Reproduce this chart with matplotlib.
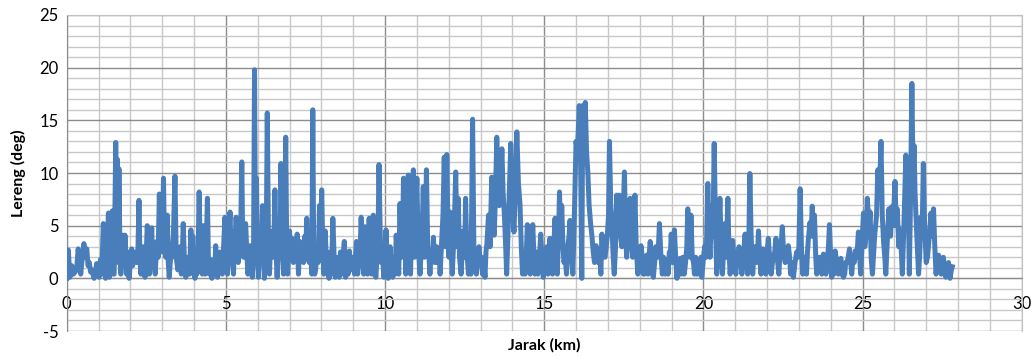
import numpy as np
import matplotlib
matplotlib.use("Agg")
import matplotlib.pyplot as plt
from matplotlib.ticker import MultipleLocator

plt.rcParams['font.family'] = ['Lato', 'DejaVu Sans']
plt.rcParams['axes.unicode_minus'] = False

# Profil kemiringan lereng sepanjang jalur: (jarak km, lereng deg)
seg_00_05 = [
    (0.00, 0.0), (0.05, 2.7), (0.10, 0.1), (0.16, 1.2), (0.21, 0.4), (0.26, 0.6), (0.31, 0.8),
    (0.36, 2.8), (0.40, 1.5), (0.44, 0.4), (0.49, 2.0), (0.54, 3.3), (0.58, 2.0), (0.63, 2.8),
    (0.67, 1.2), (0.71, 1.5), (0.75, 0.6), (0.79, 0.8), (0.86, 0.0), (0.90, 0.6), (0.94, 1.4),
    (0.98, 0.4), (1.02, 0.1), (1.06, 1.8), (1.10, 0.4), (1.15, 5.2), (1.19, 0.8), (1.22, 0.0),
    (1.27, 2.5), (1.31, 6.2), (1.34, 0.1), (1.36, 1.5), (1.40, 3.0), (1.43, 6.4), (1.46, 0.4),
    (1.49, 0.4), (1.54, 12.9), (1.57, 2.0), (1.59, 11.3), (1.62, 1.5), (1.64, 10.4), (1.67, 3.0),
    (1.70, 0.4), (1.73, 2.5), (1.76, 4.1), (1.80, 1.2), (1.83, 4.1), (1.86, 2.0), (1.88, 0.4),
    (1.92, 2.5), (1.96, 0.0), (2.00, 1.5), (2.04, 2.8), (2.07, 1.2), (2.11, 2.5), (2.15, 2.0),
    (2.20, 1.5), (2.24, 3.0), (2.27, 7.4), (2.30, 2.0), (2.33, 0.4), (2.37, 2.2), (2.41, 3.0),
    (2.44, 1.5), (2.46, 0.1), (2.50, 2.5), (2.53, 5.0), (2.57, 2.0), (2.60, 0.4), (2.64, 2.5),
    (2.67, 4.8), (2.70, 1.5), (2.74, 2.0), (2.78, 0.4), (2.83, 3.5), (2.87, 2.0), (2.91, 8.0),
    (2.94, 3.0), (2.96, 6.8), (3.00, 2.5), (3.04, 9.5), (3.07, 3.5), (3.11, 2.0), (3.16, 6.0),
    (3.19, 1.5), (3.22, 0.1), (3.26, 1.8), (3.30, 2.0), (3.35, 4.0), (3.40, 9.7), (3.44, 2.0),
    (3.49, 0.8), (3.52, 1.5), (3.56, 3.0), (3.60, 0.4), (3.63, 2.0), (3.66, 5.2), (3.70, 1.5),
    (3.74, 0.1), (3.78, 1.8), (3.82, 2.0), (3.86, 0.4), (3.90, 4.6), (3.93, 1.5), (3.96, 4.0),
    (4.00, 0.4), (4.03, 0.0), (4.06, 1.5), (4.09, 0.4), (4.13, 3.0), (4.16, 8.2), (4.19, 3.0),
    (4.22, 2.0), (4.26, 0.4), (4.29, 5.0), (4.32, 2.5), (4.35, 0.4), (4.38, 2.5), (4.42, 7.6),
    (4.45, 2.0), (4.48, 0.4), (4.52, 1.8), (4.56, 0.0), (4.59, 1.2), (4.62, 1.5), (4.65, 0.8),
    (4.68, 3.1), (4.71, 0.4), (4.74, 0.1), (4.78, 1.5), (4.82, 2.5), (4.85, 0.8), (4.89, 0.4),
    (4.93, 3.0), (4.97, 5.8),
]
seg_05_10 = [
    (5.01, 2.0), (5.05, 0.4), (5.09, 3.5), (5.13, 6.3), (5.17, 1.5), (5.20, 2.0), (5.24, 0.4),
    (5.27, 4.5), (5.30, 2.5), (5.32, 5.8), (5.36, 2.0), (5.39, 1.5), (5.44, 3.0), (5.47, 5.5),
    (5.50, 11.05), (5.53, 3.0), (5.56, 2.0), (5.59, 4.0), (5.62, 5.2), (5.66, 2.5), (5.69, 0.4),
    (5.72, 2.0), (5.76, 3.1), (5.80, 1.5), (5.83, 0.1), (5.87, 3.0), (5.90, 19.8), (5.93, 3.0),
    (5.96, 9.5), (5.99, 2.0), (6.02, 0.1), (6.05, 2.5), (6.08, 3.0), (6.11, 1.5), (6.15, 6.9),
    (6.18, 2.0), (6.21, 0.0), (6.25, 2.0), (6.27, 4.0), (6.30, 15.7), (6.34, 3.0), (6.37, 0.4),
    (6.40, 3.0), (6.44, 2.5), (6.47, 4.5), (6.50, 2.0), (6.54, 8.4), (6.57, 3.0), (6.61, 0.1),
    (6.64, 2.5), (6.67, 4.0), (6.70, 2.0), (6.73, 10.9), (6.77, 3.0), (6.81, 0.4), (6.84, 4.0),
    (6.88, 13.4), (6.91, 3.0), (6.94, 0.4), (6.97, 2.5), (7.00, 4.5), (7.04, 2.0), (7.08, 3.8),
    (7.12, 1.5), (7.16, 3.5), (7.20, 2.0), (7.24, 4.2), (7.28, 0.4), (7.32, 3.5), (7.36, 2.0),
    (7.40, 3.0), (7.44, 1.5), (7.48, 4.0), (7.51, 2.5), (7.54, 5.7), (7.58, 2.0), (7.62, 1.5),
    (7.66, 3.0), (7.70, 0.4), (7.73, 16.0), (7.76, 1.5), (7.79, 0.4), (7.82, 0.8), (7.86, 3.0),
    (7.90, 1.5), (7.94, 6.9), (7.97, 3.0), (8.01, 8.4), (8.04, 3.5), (8.08, 0.4), (8.12, 4.5),
    (8.16, 1.5), (8.20, 2.0), (8.24, 0.0), (8.28, 2.5), (8.32, 0.4), (8.36, 5.7), (8.40, 2.0),
    (8.44, 0.1), (8.48, 1.5), (8.52, 2.0), (8.56, 0.1), (8.60, 2.5), (8.64, 0.4), (8.68, 2.0),
    (8.72, 3.5), (8.76, 0.1), (8.80, 1.5), (8.84, 0.4), (8.88, 2.6), (8.92, 0.8), (8.96, 1.5),
    (9.00, 2.0), (9.04, 0.4), (9.08, 2.5), (9.10, 3.5), (9.14, 0.4), (9.18, 2.0), (9.22, 3.0),
    (9.25, 5.8), (9.29, 2.0), (9.33, 0.4), (9.37, 4.9), (9.41, 2.0), (9.45, 0.4), (9.50, 5.7),
    (9.54, 2.5), (9.58, 0.4), (9.63, 6.0), (9.67, 2.0), (9.71, 0.1), (9.75, 2.0), (9.78, 4.0),
    (9.81, 10.8), (9.85, 4.0), (9.88, 1.5), (9.92, 2.5), (9.96, 0.1),
]
seg_10_15 = [
    (10.00, 1.5), (10.03, 4.6), (10.07, 0.4), (10.10, 0.0), (10.13, 2.0), (10.16, 3.0),
    (10.20, 0.4), (10.24, 0.1), (10.28, 2.0), (10.32, 0.4), (10.35, 4.1), (10.39, 2.0),
    (10.43, 0.4), (10.47, 7.1), (10.51, 2.0), (10.55, 3.5), (10.58, 9.5), (10.62, 4.0),
    (10.65, 0.4), (10.69, 5.0), (10.73, 9.8), (10.77, 3.0), (10.80, 0.4), (10.84, 6.0),
    (10.89, 10.3), (10.92, 2.0), (10.95, 5.0), (11.00, 9.5), (11.04, 3.0), (11.10, 0.4),
    (11.14, 3.0), (11.17, 5.0), (11.20, 8.7), (11.24, 2.0), (11.27, 5.0), (11.30, 10.3),
    (11.34, 3.0), (11.38, 2.0), (11.41, 0.4), (11.45, 2.5), (11.48, 1.5), (11.52, 3.9),
    (11.55, 2.0), (11.58, 1.5), (11.62, 3.0), (11.66, 1.5), (11.70, 2.5), (11.73, 0.4),
    (11.77, 3.0), (11.82, 6.0), (11.86, 11.5), (11.90, 3.0), (11.94, 11.75), (11.98, 4.0),
    (12.01, 2.0), (12.04, 6.3), (12.08, 2.5), (12.11, 0.4), (12.15, 3.0), (12.18, 5.5),
    (12.22, 10.1), (12.26, 3.0), (12.30, 7.6), (12.34, 2.0), (12.39, 0.4), (12.43, 3.0),
    (12.46, 4.5), (12.50, 2.0), (12.53, 7.6), (12.57, 2.5), (12.62, 0.4), (12.66, 2.0),
    (12.70, 0.4), (12.75, 15.1), (12.79, 3.0), (12.83, 2.5), (12.87, 0.4), (12.91, 2.0),
    (12.95, 3.0), (12.99, 1.5), (13.03, 2.0), (13.06, 0.4), (13.10, 1.5), (13.14, 0.1),
    (13.17, 2.5), (13.20, 3.3), (13.25, 6.0), (13.30, 3.0), (13.35, 9.6), (13.39, 5.0),
    (13.43, 4.1), (13.47, 8.0), (13.51, 13.4), (13.55, 8.0), (13.59, 6.9), (13.63, 9.0),
    (13.67, 12.3), (13.71, 8.0), (13.75, 6.0), (13.79, 3.0), (13.82, 0.4), (13.86, 4.0),
    (13.90, 8.0), (13.95, 12.8), (14.00, 7.0), (14.05, 4.4), (14.10, 9.0), (14.14, 13.9),
    (14.19, 9.0), (14.24, 7.0), (14.28, 3.0), (14.32, 0.4), (14.35, 2.0), (14.40, 0.4),
    (14.44, 2.5), (14.47, 5.1), (14.51, 2.0), (14.56, 0.4), (14.60, 2.0), (14.64, 5.1),
    (14.68, 2.0), (14.71, 0.4), (14.75, 2.5), (14.80, 0.4), (14.85, 2.0), (14.89, 4.2),
    (14.93, 2.0), (14.97, 0.1),
]
seg_15_20 = [
    (15.01, 1.5), (15.04, 2.0), (15.08, 3.0), (15.12, 0.4), (15.15, 2.0), (15.18, 3.8),
    (15.22, 1.5), (15.26, 0.4), (15.30, 3.0), (15.34, 5.7), (15.38, 2.0), (15.41, 0.4),
    (15.45, 4.0), (15.48, 8.2), (15.52, 4.0), (15.55, 6.9), (15.59, 3.0), (15.62, 1.5),
    (15.66, 2.0), (15.70, 0.4), (15.74, 3.0), (15.78, 4.0), (15.81, 5.5), (15.86, 2.0),
    (15.90, 0.4), (15.94, 5.0), (15.97, 9.0), (16.00, 13.0), (16.04, 12.0), (16.07, 14.0),
    (16.10, 16.4), (16.14, 12.0), (16.18, 0.0), (16.21, 16.4), (16.25, 14.0), (16.29, 16.7),
    (16.33, 12.0), (16.37, 10.1), (16.41, 7.0), (16.46, 5.1), (16.50, 4.0), (16.54, 2.5),
    (16.58, 1.5), (16.63, 3.1), (16.67, 2.0), (16.70, 1.5), (16.74, 2.5), (16.78, 0.4),
    (16.81, 4.2), (16.86, 2.5), (16.91, 2.0), (16.95, 3.0), (16.98, 4.0), (17.02, 6.0),
    (17.05, 13.0), (17.09, 7.0), (17.12, 5.7), (17.16, 2.5), (17.20, 0.4), (17.24, 3.0),
    (17.28, 7.9), (17.32, 5.0), (17.36, 7.9), (17.40, 4.0), (17.44, 3.0), (17.48, 6.0),
    (17.52, 10.1), (17.56, 4.0), (17.59, 2.0), (17.64, 4.0), (17.70, 7.6), (17.74, 4.0),
    (17.78, 2.0), (17.82, 5.0), (17.85, 7.9), (17.89, 3.0), (17.94, 0.4), (17.99, 1.5),
    (18.04, 3.1), (18.08, 2.0), (18.11, 0.4), (18.15, 0.4), (18.18, 2.0), (18.22, 2.2),
    (18.26, 0.4), (18.29, 2.0), (18.33, 3.5), (18.37, 1.5), (18.40, 0.4), (18.43, 0.1),
    (18.47, 1.5), (18.50, 3.0), (18.55, 2.0), (18.58, 2.5), (18.62, 5.2), (18.66, 2.5),
    (18.71, 0.4), (18.75, 2.0), (18.80, 0.4), (18.85, 1.8), (18.89, 0.4), (18.93, 2.5),
    (18.96, 2.0), (18.99, 4.2), (19.03, 1.5), (19.06, 2.0), (19.09, 4.6), (19.13, 2.0),
    (19.17, 0.0), (19.21, 1.5), (19.24, 0.4), (19.27, 1.9), (19.31, 0.4), (19.35, 2.0),
    (19.40, 0.4), (19.44, 1.5), (19.48, 3.0), (19.51, 6.6), (19.55, 3.0), (19.58, 2.0),
    (19.61, 6.0), (19.65, 2.0), (19.69, 1.5), (19.72, 0.4), (19.76, 2.0), (19.80, 0.4),
    (19.84, 1.5), (19.88, 0.4), (19.92, 2.0), (19.95, 0.1), (19.99, 1.5),
]
seg_20_25 = [
    (20.02, 2.5), (20.05, 3.1), (20.09, 2.0), (20.14, 9.0), (20.17, 4.0), (20.21, 2.0),
    (20.26, 6.9), (20.30, 4.0), (20.34, 12.8), (20.38, 5.0), (20.42, 0.4), (20.46, 3.0),
    (20.52, 7.6), (20.56, 3.0), (20.60, 0.4), (20.64, 3.0), (20.68, 5.2), (20.72, 2.0),
    (20.77, 7.6), (20.80, 3.0), (20.84, 0.4), (20.88, 2.0), (20.92, 3.6), (20.96, 2.0),
    (21.02, 0.4), (21.06, 2.5), (21.09, 1.5), (21.12, 3.0), (21.16, 2.0), (21.21, 0.4),
    (21.25, 2.0), (21.28, 3.0), (21.31, 4.2), (21.35, 2.0), (21.39, 0.4), (21.43, 4.0),
    (21.46, 9.95), (21.50, 4.0), (21.55, 0.4), (21.58, 2.0), (21.62, 3.0), (21.66, 1.5),
    (21.70, 2.0), (21.73, 4.5), (21.77, 2.0), (21.81, 0.4), (21.84, 2.0), (21.87, 2.8),
    (21.91, 1.5), (21.96, 0.4), (22.00, 2.5), (22.04, 3.8), (22.08, 2.0), (22.13, 0.4),
    (22.17, 1.5), (22.20, 2.0), (22.24, 2.5), (22.28, 3.8), (22.32, 2.0), (22.37, 0.4),
    (22.41, 2.5), (22.45, 3.5), (22.48, 4.9), (22.52, 2.5), (22.57, 1.5), (22.61, 2.0),
    (22.64, 2.5), (22.67, 3.1), (22.71, 2.0), (22.74, 0.4), (22.79, 1.5), (22.83, 0.1),
    (22.88, 1.5), (22.93, 2.5), (22.97, 2.0), (23.00, 3.0), (23.04, 8.5), (23.08, 3.0),
    (23.12, 0.4), (23.16, 1.5), (23.20, 2.0), (23.24, 0.4), (23.27, 2.5), (23.30, 3.8),
    (23.35, 5.3), (23.38, 4.0), (23.42, 6.85), (23.46, 4.0), (23.49, 6.0), (23.53, 2.0),
    (23.56, 0.4), (23.60, 2.0), (23.64, 1.5), (23.67, 2.0), (23.72, 0.4), (23.77, 2.3),
    (23.81, 1.5), (23.85, 0.4), (23.90, 2.0), (23.93, 3.0), (23.96, 5.1), (24.00, 2.0),
    (24.03, 0.1), (24.07, 1.5), (24.10, 0.4), (24.14, 2.6), (24.19, 1.5), (24.24, 0.4),
    (24.28, 1.5), (24.32, 1.9), (24.36, 0.4), (24.40, 0.1), (24.44, 0.4), (24.47, 1.5),
    (24.51, 1.5), (24.55, 2.0), (24.59, 2.8), (24.63, 1.5), (24.66, 0.4), (24.70, 2.0),
    (24.74, 1.5), (24.77, 2.6), (24.82, 2.0), (24.87, 4.4), (24.91, 2.0), (24.94, 0.4),
    (24.98, 3.0),
]
seg_25_28 = [
    (25.03, 6.2), (25.07, 3.0), (25.11, 4.0), (25.15, 7.6), (25.20, 5.0), (25.24, 6.3),
    (25.27, 2.0), (25.31, 0.4), (25.34, 2.0), (25.38, 4.0), (25.44, 6.0), (25.48, 10.3),
    (25.53, 8.0), (25.58, 13.0), (25.62, 6.0), (25.66, 3.5), (25.70, 2.0), (25.73, 0.4),
    (25.77, 3.0), (25.80, 5.0), (25.83, 6.6), (25.88, 4.0), (25.92, 6.8), (25.96, 5.0),
    (26.02, 9.2), (26.06, 5.0), (26.09, 6.6), (26.14, 3.0), (26.18, 4.6), (26.22, 2.5),
    (26.25, 0.4), (26.30, 5.0), (26.36, 11.7), (26.39, 8.0), (26.42, 11.4), (26.45, 5.0),
    (26.47, 0.4), (26.51, 8.0), (26.55, 18.5), (26.59, 9.0), (26.62, 12.6), (26.65, 8.0),
    (26.68, 5.8), (26.72, 3.0), (26.76, 0.4), (26.80, 2.5), (26.83, 5.8), (26.87, 4.0),
    (26.91, 10.9), (26.95, 5.0), (27.00, 1.5), (27.04, 2.0), (27.07, 3.0), (27.11, 4.5),
    (27.15, 6.2), (27.19, 4.0), (27.23, 6.6), (27.27, 3.0), (27.31, 0.4), (27.35, 2.0),
    (27.39, 2.2), (27.43, 1.5), (27.47, 0.4), (27.51, 1.5), (27.54, 2.0), (27.58, 0.4),
    (27.62, 0.1), (27.66, 0.4), (27.70, 1.5), (27.75, 0.0), (27.79, 0.8), (27.82, 1.1),
]

profil = seg_00_05 + seg_05_10 + seg_10_15 + seg_15_20 + seg_20_25 + seg_25_28
jarak_km = np.array([p[0] for p in profil])
lereng_deg = np.array([p[1] for p in profil])

fig = plt.figure(figsize=(10.36, 3.57), dpi=100)
ax = fig.add_axes([0.0644, 0.0728, 0.9218, 0.8852])

ax.plot(jarak_km, lereng_deg, color='#4A7EBB', linewidth=3.6, solid_joinstyle='round', zorder=3)

ax.set_xlim(0, 30)
ax.set_ylim(-5, 25)
ax.xaxis.set_major_locator(MultipleLocator(5))
ax.xaxis.set_minor_locator(MultipleLocator(1))
ax.yaxis.set_major_locator(MultipleLocator(5))
ax.yaxis.set_minor_locator(MultipleLocator(1))

ax.grid(which='major', color='#8C8C8C', linewidth=1.0)
ax.grid(which='minor', color='#C8C8C8', linewidth=1.0)
ax.set_axisbelow(True)

for side in ['top', 'right']:
    ax.spines[side].set_color('#C0C0C0')
ax.spines['left'].set_color('#8C8C8C')
ax.spines['bottom'].set_position(('data', 0))
ax.spines['bottom'].set_color('#8C8C8C')

ax.tick_params(which='both', length=0)
ax.tick_params(axis='x', pad=13, labelsize=12)
ax.tick_params(axis='y', pad=6, labelsize=12)

fig.text(0.5251, 0.034, 'Jarak (km)', ha='center', va='center', fontsize=11.5, fontweight='bold')
fig.text(0.0174, 0.515, 'Lereng (deg)', ha='center', va='center', rotation=90,
         fontsize=11.5, fontweight='bold')

fig.savefig('out.png', dpi=100)
